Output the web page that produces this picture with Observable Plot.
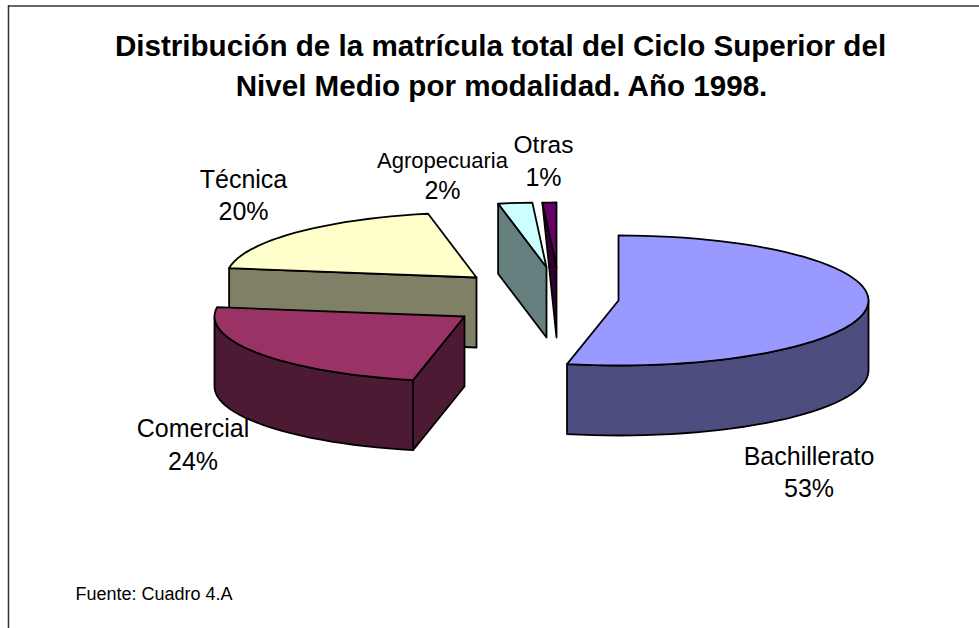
<!DOCTYPE html>
<html lang="es">
<head>
<meta charset="utf-8">
<script src="https://cdn.jsdelivr.net/npm/d3@7"></script>
<script src="https://cdn.jsdelivr.net/npm/@observablehq/plot@0.6"></script>
<style>html,body{margin:0;padding:0;background:#fff}svg{display:block}</style>
</head>
<body>
<div id="chart"></div>
<script>
// Values (percent of total; labels are rounded)
const modalidades = ["Bachillerato", "Comercial", "Técnica", "Agropecuaria", "Otras"];
const porcentajes = [53.3, 24.0, 19.6, 2.2, 0.9];
const tituloLineas = [
  "Distribución de la matrícula total del Ciclo Superior del",
  "Nivel Medio por modalidad. Año 1998."
];
const fuente = "Fuente: Cuadro 4.A";

// Styling and layout, kept apart from the data
const topColors = ["#9999FF", "#993366", "#FFFFCC", "#CCFFFF", "#660066"];
const wallColors = ["#4D4D80", "#4D1A33", "#808066", "#668080", "#330033"];
const apexes = [[618, 300], [464, 316], [476, 277], [546, 267], [556, 267]];
const labelCentres = [[808.5, 456, 488], [192.5, 428.5, 461], [243, 179, 211], [442, 160, 190], [543, 145, 177]];
const labelSizes = [25, 25, 25, 22, 24.5];
const RX = 250, RY = 65, DEPTH = 70, OUTLINE = 1.8;

// Slice angles accumulated from the shares (clockwise, 0 = back of the pie)
let running = 0;
const slices = modalidades.map((name, i) => {
  const a0 = running / 100 * 360;
  running += porcentajes[i];
  return {name, i, a0, a1: running / 100 * 360, apex: apexes[i]};
});
const rimPoint = (s, deg, drop = 0) => {
  const r = deg * Math.PI / 180;
  return [s.apex[0] + RX * Math.sin(r), s.apex[1] - RY * Math.cos(r) + drop];
};
const arc = (s, from, to, drop = 0) => {
  const n = Math.max(2, Math.ceil(Math.abs(to - from) / 3));
  return d3.range(n + 1).map(k => rimPoint(s, from + (to - from) * k / n, drop));
};
const topFace = s => [s.apex, ...arc(s, s.a0, s.a1)];
const outerWall = (s, from, to) => [...arc(s, from, to), ...arc(s, to, from, DEPTH)];
const radialWall = (s, deg) => [
  s.apex, rimPoint(s, deg), rimPoint(s, deg, DEPTH), [s.apex[0], s.apex[1] + DEPTH]
];
const radialSliver = (s, deg) => [
  rimPoint(s, deg), s.apex, [s.apex[0], s.apex[1] + DEPTH]
];

const [bach, com, tec, agro, otras] = slices;
const faces = [
  // back group
  {pts: radialWall(tec, tec.a0), fill: wallColors[2]},
  {pts: topFace(tec), fill: topColors[2]},
  // front-left slice
  {pts: radialWall(com, com.a0), fill: wallColors[1]},
  {pts: outerWall(com, com.a0, 270), fill: wallColors[1]},
  {pts: topFace(com), fill: topColors[1]},
  // small slices
  {pts: topFace(otras), fill: topColors[4]},
  {pts: radialSliver(otras, otras.a0), fill: wallColors[4]},
  {pts: topFace(agro), fill: topColors[3]},
  {pts: radialWall(agro, agro.a0), fill: wallColors[3]},
  // main slice
  {pts: outerWall(bach, 90, bach.a1), fill: wallColors[0]},
  {pts: topFace(bach), fill: topColors[0]}
];

const labelRows = slices.flatMap(s => {
  const [cx, y1, y2] = labelCentres[s.i];
  return [
    {x: cx, y: y1, t: s.name, size: labelSizes[s.i]},
    {x: cx, y: y2, t: Math.round(porcentajes[s.i]) + "%", size: 25}
  ];
});

const sans = "'Liberation Sans', Arial, sans-serif";
const chart = Plot.plot({
  width: 979, height: 628,
  margin: 0,
  x: {domain: [0, 979], range: [0, 979], axis: null},
  y: {domain: [0, 628], range: [0, 628], axis: null},
  style: {background: "#fff", fontFamily: sans},
  marks: [
    Plot.ruleY([5.5], {x1: 8, x2: 979, stroke: "#333", strokeWidth: 1.5}),
    Plot.ruleX([8], {y1: 5, y2: 628, stroke: "#333", strokeWidth: 1.5}),
    ...faces.map(f => Plot.line(f.pts, {
      x: d => d[0], y: d => d[1],
      curve: "linear-closed",
      fill: f.fill, stroke: "#000", strokeWidth: OUTLINE, strokeLinejoin: "round"
    })),
    Plot.text(tituloLineas, {
      x: (d, i) => [500, 501][i], y: (d, i) => [46.5, 86.5][i], text: d => d,
      fontSize: 29.6, fontWeight: "bold", fill: "#000", textAnchor: "middle"
    }),
    ...labelRows.map(r => Plot.text([r], {
      x: "x", y: "y", text: "t",
      fontSize: r.size, fill: "#000", textAnchor: "middle"
    })),
    Plot.text([fuente], {
      x: () => 75, y: () => 594, text: d => d,
      fontSize: 18, fill: "#000", textAnchor: "start"
    })
  ]
});
document.getElementById("chart").appendChild(chart);
</script>
</body>
</html>
